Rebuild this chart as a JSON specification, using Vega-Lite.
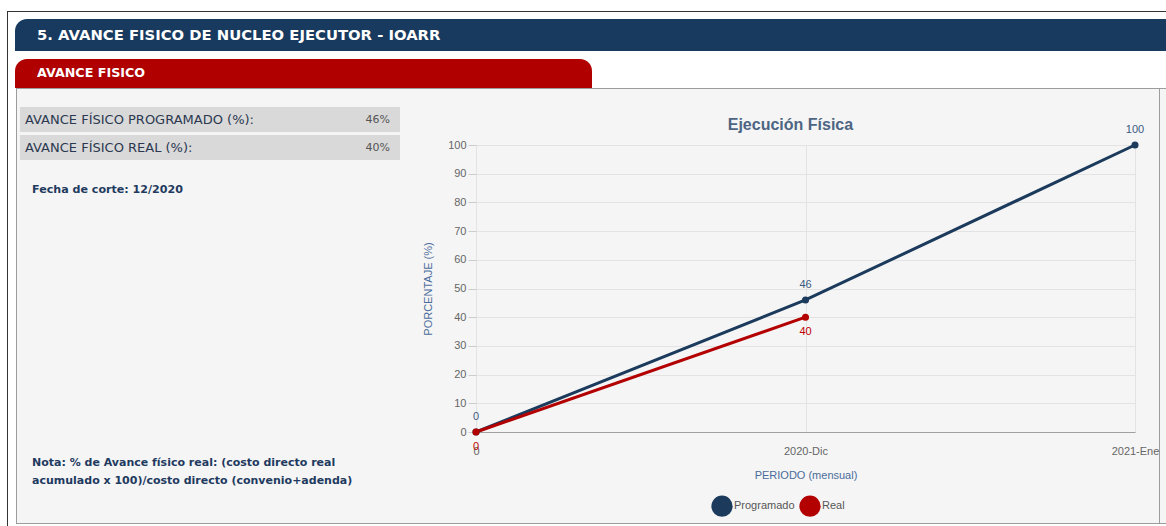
{
  "$schema": "https://vega.github.io/schema/vega-lite/v6.json",
  "background": "#f5f5f5",
  "padding": 0,
  "spacing": 0,
  "data": {"values": [{"k": 1}]},
  "config": {"view": {"stroke": null}, "concat": {"spacing": 0}, "font": "Liberation Sans"},
  "vconcat": [
    {"width": 1166, "height": 11, "mark": {"type": "rect", "opacity": 0}, "encoding": {}, "view": {"fill": "#ffffff", "stroke": null}},
    {"spacing": 0, "hconcat": [
      {"width": 7, "height": 515, "mark": {"type": "rect", "opacity": 0}, "encoding": {}, "view": {"fill": "#ffffff", "stroke": null}},
      {"width": 1, "height": 515, "mark": {"type": "rect", "opacity": 0}, "encoding": {}, "view": {"fill": "#333333", "stroke": null}},
      {"spacing": 0, "vconcat": [
        {"width": 1158, "height": 1, "mark": {"type": "rect", "opacity": 0}, "encoding": {}, "view": {"fill": "#333333", "stroke": null}},
        {"width": 1158, "height": 7, "mark": {"type": "rect", "opacity": 0}, "encoding": {}, "view": {"fill": "#ffffff", "stroke": null}},
        {"spacing": 0, "hconcat": [
          {"width": 7, "height": 32, "mark": {"type": "rect", "opacity": 0}, "encoding": {}, "view": {"fill": "#ffffff", "stroke": null}},
          {"width": 1151, "height": 32, "view": {"fill": "#ffffff", "stroke": null},
           "data": {"values": [{"titulo": "5. AVANCE FISICO DE NUCLEO EJECUTOR - IOARR"}]},
           "layer": [
             {"mark": {"type": "rect", "color": "#183a5e", "cornerRadiusTopLeft": 12}, "encoding": {}},
             {"mark": {"type": "text", "align": "left", "baseline": "middle", "color": "#ffffff", "font": "DejaVu Sans", "fontSize": 14.8, "fontWeight": "bold"},
              "encoding": {
                "text": {"field": "titulo"},
                "x": {"datum": 22, "type": "quantitative", "scale": {"domain": [0, 1151], "nice": false, "zero": false}, "axis": null},
                "y": {"datum": 17, "type": "quantitative", "scale": {"domain": [0, 32], "reverse": true, "nice": false, "zero": false}, "axis": null}
              }}
           ]}
        ]},
        {"width": 1158, "height": 8, "mark": {"type": "rect", "opacity": 0}, "encoding": {}, "view": {"fill": "#ffffff", "stroke": null}},
        {"spacing": 0, "hconcat": [
          {"width": 7, "height": 29, "mark": {"type": "rect", "opacity": 0}, "encoding": {}, "view": {"fill": "#ffffff", "stroke": null}},
          {"width": 577, "height": 29, "view": {"fill": "#ffffff", "stroke": null},
           "data": {"values": [{"titulo": "AVANCE FISICO"}]},
           "layer": [
             {"mark": {"type": "rect", "color": "#b00000", "cornerRadiusTopLeft": 12, "cornerRadiusTopRight": 12}, "encoding": {}},
             {"mark": {"type": "text", "align": "left", "baseline": "middle", "color": "#ffffff", "font": "DejaVu Sans", "fontSize": 12.7, "fontWeight": "bold"},
              "encoding": {
                "text": {"field": "titulo"},
                "x": {"datum": 22, "type": "quantitative", "scale": {"domain": [0, 577], "nice": false, "zero": false}, "axis": null},
                "y": {"datum": 13.5, "type": "quantitative", "scale": {"domain": [0, 29], "reverse": true, "nice": false, "zero": false}, "axis": null}
              }}
           ]},
          {"width": 574, "height": 29, "mark": {"type": "rect", "opacity": 0}, "encoding": {}, "view": {"fill": "#ffffff", "stroke": null}}
        ]},
        {"spacing": 0, "hconcat": [
          {"width": 8, "height": 438, "mark": {"type": "rect", "opacity": 0}, "encoding": {}, "view": {"fill": "#ffffff", "stroke": null}},
          {"spacing": 0, "vconcat": [
            {"width": 1150, "height": 1, "mark": {"type": "rect", "opacity": 0}, "encoding": {}, "view": {"fill": "#9c9c9c", "stroke": null}},
            {"spacing": 0, "hconcat": [
              {"width": 1, "height": 434, "mark": {"type": "rect", "opacity": 0}, "encoding": {}, "view": {"fill": "#9c9c9c", "stroke": null}},
              {"width": 405, "height": 434,
               "layer": [
                 {"data": {"values": [{"label": "AVANCE FÍSICO PROGRAMADO (%):", "value": "46%"}]},
                  "layer": [
                    {"mark": {"type": "rect", "color": "#d9d9d9"},
                     "encoding": {
                       "x": {"datum": 3, "type": "quantitative", "scale": {"domain": [0, 405], "nice": false, "zero": false}, "axis": null},
                       "x2": {"datum": 383},
                       "y": {"datum": 18, "type": "quantitative", "scale": {"domain": [0, 434], "reverse": true, "nice": false, "zero": false}, "axis": null},
                       "y2": {"datum": 43}
                     }},
                    {"mark": {"type": "text", "align": "left", "baseline": "middle", "font": "DejaVu Sans", "fontSize": 13, "color": "#2b3850"},
                     "encoding": {"text": {"field": "label"}, "x": {"datum": 8, "type": "quantitative"}, "y": {"datum": 30.5, "type": "quantitative"}}},
                    {"mark": {"type": "text", "align": "right", "baseline": "middle", "font": "DejaVu Sans", "fontSize": 11, "color": "#555555"},
                     "encoding": {"text": {"field": "value"}, "x": {"datum": 373, "type": "quantitative"}, "y": {"datum": 30.5, "type": "quantitative"}}}
                  ]},
                 {"data": {"values": [{"label": "AVANCE FÍSICO REAL (%):", "value": "40%"}]},
                  "layer": [
                    {"mark": {"type": "rect", "color": "#d9d9d9"},
                     "encoding": {
                       "x": {"datum": 3, "type": "quantitative"},
                       "x2": {"datum": 383},
                       "y": {"datum": 46, "type": "quantitative"},
                       "y2": {"datum": 71}
                     }},
                    {"mark": {"type": "text", "align": "left", "baseline": "middle", "font": "DejaVu Sans", "fontSize": 13, "color": "#2b3850"},
                     "encoding": {"text": {"field": "label"}, "x": {"datum": 8, "type": "quantitative"}, "y": {"datum": 58.5, "type": "quantitative"}}},
                    {"mark": {"type": "text", "align": "right", "baseline": "middle", "font": "DejaVu Sans", "fontSize": 11, "color": "#555555"},
                     "encoding": {"text": {"field": "value"}, "x": {"datum": 373, "type": "quantitative"}, "y": {"datum": 58.5, "type": "quantitative"}}}
                  ]},
                 {"data": {"values": [{"nota": "Fecha de corte: 12/2020"}]},
                  "mark": {"type": "text", "align": "left", "baseline": "middle", "font": "DejaVu Sans", "fontSize": 11.1, "fontWeight": "bold", "color": "#1f3a5f"},
                  "encoding": {"text": {"field": "nota"}, "x": {"datum": 15, "type": "quantitative"}, "y": {"datum": 101, "type": "quantitative"}}},
                 {"data": {"values": [{"nota": "Nota: % de Avance físico real: (costo directo real\nacumulado x 100)/costo directo (convenio+adenda)"}]},
                  "mark": {"type": "text", "align": "left", "baseline": "top", "lineBreak": "\n", "lineHeight": 18, "font": "DejaVu Sans", "fontSize": 11, "fontWeight": "bold", "color": "#1f3a5f"},
                  "encoding": {"text": {"field": "nota"}, "x": {"datum": 15, "type": "quantitative"}, "y": {"datum": 368, "type": "quantitative"}}}
               ]},
              {"spacing": 0, "vconcat": [
                {"width": 1, "height": 28, "mark": {"type": "rect", "opacity": 0}, "encoding": {}},
                {"width": 659, "height": 287,
                 "data": {"values": [
                   {"periodo": "0", "serie": "Programado", "valor": 0},
                   {"periodo": "2020-Dic", "serie": "Programado", "valor": 46},
                   {"periodo": "2021-Ene", "serie": "Programado", "valor": 100},
                   {"periodo": "0", "serie": "Real", "valor": 0},
                   {"periodo": "2020-Dic", "serie": "Real", "valor": 40}
                 ]},
                 "title": {"text": "Ejecución Física", "fontSize": 16, "fontWeight": "bold", "color": "#4d6582", "font": "Liberation Sans", "baseline": "bottom", "offset": -25, "anchor": "middle", "frame": "bounds"},
                 "encoding": {
                   "x": {"field": "periodo", "type": "ordinal", "scale": {"type": "point", "domain": ["0", "2020-Dic", "2021-Ene"], "padding": 0},
                         "axis": {"title": "PERIODO (mensual)", "titleColor": "#4a6c9b", "titleFontSize": 11, "titleFontWeight": "normal", "titlePadding": 13,
                                  "labelAngle": 0, "labelColor": "#666666", "labelFontSize": 11, "labelPadding": 13, "ticks": false, "tickSize": 0,
                                  "grid": true, "gridColor": "#e3e3e3", "domainColor": "#a0a0a0"}},
                   "y": {"field": "valor", "type": "quantitative", "scale": {"domain": [0, 100], "nice": false},
                         "axis": {"title": "PORCENTAJE (%)", "titleColor": "#4a6c9b", "titleFontSize": 11, "titleFontWeight": "normal", "titlePadding": 0,
                                  "values": [0, 10, 20, 30, 40, 50, 60, 70, 80, 90, 100], "labelOverlap": false, "labelColor": "#666666", "labelFontSize": 11, "labelPadding": 2,
                                  "tickSize": 8, "tickColor": "#cccccc", "gridColor": "#e3e3e3", "domain": false, "minExtent": 43, "maxExtent": 43}}
                 },
                 "layer": [
                   {"transform": [{"filter": "datum.serie === 'Programado'"}],
                    "mark": {"type": "line", "strokeWidth": 3, "color": "#1b3a5c"}, "encoding": {}},
                   {"transform": [{"filter": "datum.serie === 'Real'"}],
                    "mark": {"type": "line", "strokeWidth": 3, "color": "#b30000"}, "encoding": {}},
                   {"mark": {"type": "circle", "size": 50, "opacity": 1},
                    "encoding": {"color": {"field": "serie", "type": "nominal", "scale": {"domain": ["Programado", "Real"], "range": ["#1b3a5c", "#b30000"]},
                      "legend": {"title": null, "orient": "none", "legendX": 711, "legendY": 495, "padding": 0, "direction": "horizontal", "symbolType": "circle", "symbolSize": 450,
                                 "symbolStrokeWidth": 0, "symbolOpacity": 1, "labelFontSize": 11, "labelColor": "#555555", "labelOffset": 1, "columnPadding": 4}}}},
                   {"transform": [{"filter": "datum.serie === 'Programado'"}],
                    "mark": {"type": "text", "dy": -15, "fontSize": 11, "color": "#3b5a80"},
                    "encoding": {"text": {"field": "valor", "type": "quantitative"}}},
                   {"transform": [{"filter": "datum.serie === 'Real'"}],
                    "mark": {"type": "text", "dy": 15, "fontSize": 11, "color": "#c00000"},
                    "encoding": {"text": {"field": "valor", "type": "quantitative"}}}
                 ]}
              ]},
              {"width": 1, "height": 434, "mark": {"type": "rect", "opacity": 0}, "encoding": {}, "view": {"fill": "#9c9c9c", "stroke": null}}
            ]},
            {"width": 1150, "height": 1, "mark": {"type": "rect", "opacity": 0}, "encoding": {}, "view": {"fill": "#9c9c9c", "stroke": null}},
            {"width": 1150, "height": 2, "mark": {"type": "rect", "opacity": 0}, "encoding": {}, "view": {"fill": "#ffffff", "stroke": null}}
          ]}
        ]}
      ]}
    ]}
  ]
}
